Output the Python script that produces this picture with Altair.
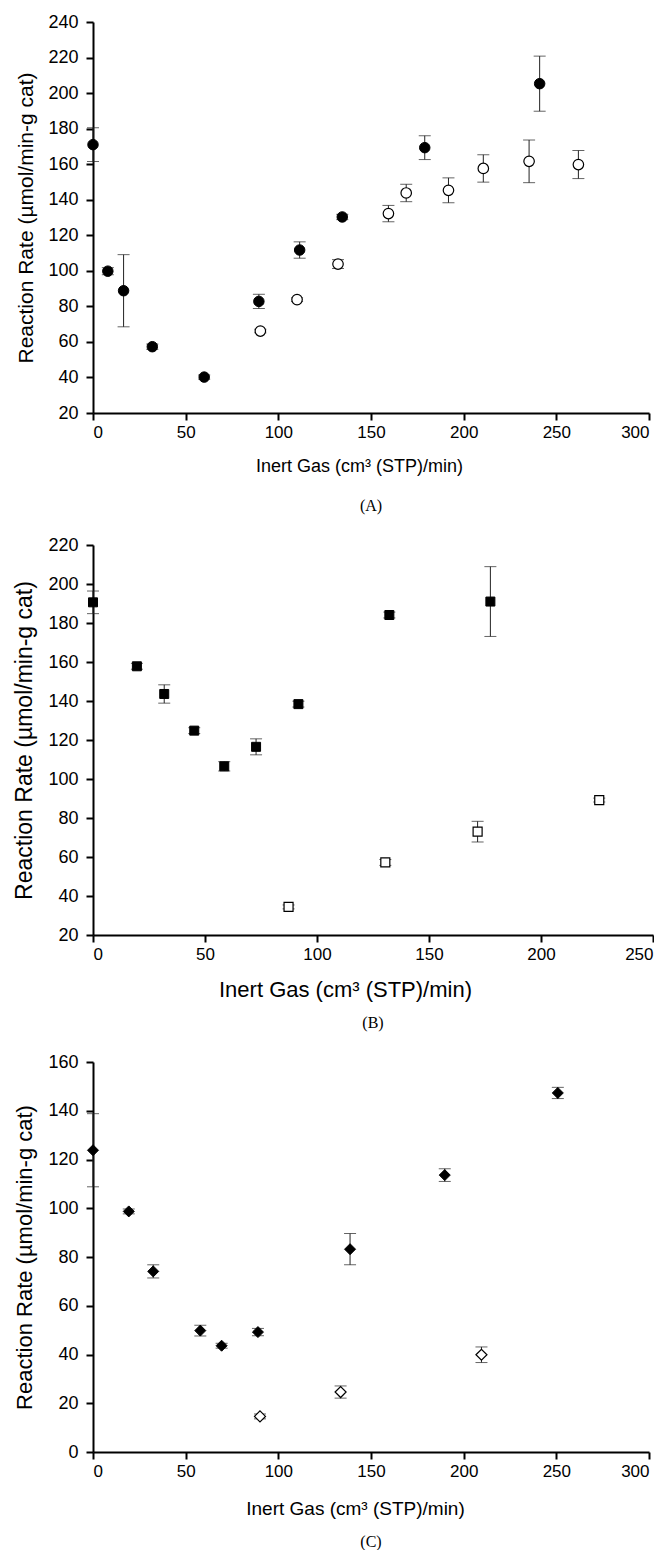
import altair as alt
import pandas as pd

# ---------------- Panel A (circles) ----------------
a_fill_x = [0, 8, 16.5, 32, 60, 89.5, 111.5, 134.5, 179, 241]
a_fill_y = [171, 99.8, 88.8, 57.3, 40.2, 82.8, 111.7, 130.3, 169.3, 205.3]
a_fill_err = [9.5, 2, 20.3, 1.5, 1.2, 4, 4.6, 1.5, 6.7, 15.5]
a_open_x = [90.3, 110.1, 132.2, 159.4, 169, 191.8, 210.6, 235.3, 261.9]
a_open_y = [66.1, 83.8, 103.8, 132.2, 143.8, 145.3, 157.6, 161.6, 159.8]
a_open_err = [1, 1, 2.5, 4.6, 4.9, 7, 7.7, 12, 7.9]

# ---------------- Panel B (squares) ----------------
b_fill_x = [0, 19.6, 31.8, 45.2, 58.6, 72.8, 91.7, 132.3, 177.4]
b_fill_y = [190.6, 157.8, 143.6, 124.8, 106.5, 116.5, 138.4, 184.1, 191]
b_fill_err = [5.8, 1.5, 4.7, 1.5, 2.4, 4.1, 1.5, 1.5, 17.9]
b_open_x = [87.3, 130.5, 171.7, 226]
b_open_y = [34.4, 57.2, 73, 89.2]
b_open_err = [1, 1.5, 5.3, 1]

# ---------------- Panel C (diamonds) ----------------
c_fill_x = [0, 19.3, 32.5, 57.9, 69.4, 89, 138.7, 189.8, 250.8]
c_fill_y = [123.8, 98.7, 74.1, 49.8, 43.6, 49.2, 83.2, 113.6, 147.3]
c_fill_err = [15, 1, 2.7, 2.2, 1, 1.5, 6.4, 2.6, 2.3]
c_open_x = [90.1, 133.6, 209.6]
c_open_y = [14.6, 24.6, 39.9]
c_open_err = [1, 2.5, 3.2]

X_TITLE = "Inert Gas (cm³ (STP)/min)"
Y_TITLE = "Reaction Rate (µmol/min-g cat)"


def make_df(xs, ys, es):
    return pd.DataFrame({
        "x": xs, "y": ys,
        "lo": [y - e for y, e in zip(ys, es)],
        "hi": [y + e for y, e in zip(ys, es)],
    })


def panel(fx, fy, fe, ox, oy, oe, shape, msize, xmax, ymin, ymax,
          width, height, caption, xtfont, ytfont, xtitle_x, xtitle_pad,
          cap_offset):
    xs = alt.Scale(domain=[0, xmax], nice=False, zero=False)
    ys = alt.Scale(domain=[ymin, ymax], nice=False, zero=False)
    xaxis = alt.Axis(values=list(range(0, xmax + 1, 50)), title=X_TITLE,
                     titleFontSize=xtfont, labelPadding=4,
                     titlePadding=xtitle_pad, titleX=xtitle_x)
    yaxis = alt.Axis(values=list(range(ymin, ymax + 1, 20)), title=Y_TITLE,
                     titleFontSize=ytfont, labelPadding=8, titlePadding=11)
    layers = []
    for xs_, ys_, es_, filled in [(fx, fy, fe, True), (ox, oy, oe, False)]:
        df = make_df(xs_, ys_, es_)
        base = alt.Chart(df)
        stem = base.mark_rule(color="#222222", strokeWidth=1).encode(
            x=alt.X("x:Q", scale=xs, axis=xaxis),
            y=alt.Y("lo:Q", scale=ys, axis=yaxis),
            y2="hi:Q",
        )
        cap_lo = base.mark_tick(color="#222222", orient="horizontal", size=12,
                                thickness=1).encode(
            x=alt.X("x:Q", scale=xs, axis=xaxis),
            y=alt.Y("lo:Q", scale=ys, axis=yaxis),
        )
        cap_hi = base.mark_tick(color="#222222", orient="horizontal", size=12,
                                thickness=1).encode(
            x=alt.X("x:Q", scale=xs, axis=xaxis),
            y=alt.Y("hi:Q", scale=ys, axis=yaxis),
        )
        if filled:
            pts = base.mark_point(shape=shape, size=msize, filled=True,
                                  fill="black", stroke="black", strokeWidth=1,
                                  opacity=1)
        else:
            pts = base.mark_point(shape=shape, size=msize, filled=True,
                                  fill="white", stroke="black", strokeWidth=1.2,
                                  opacity=1)
        pts = pts.encode(
            x=alt.X("x:Q", scale=xs, axis=xaxis),
            y=alt.Y("y:Q", scale=ys, axis=yaxis),
        )
        layers += [stem, cap_lo, cap_hi, pts]
    return alt.layer(*layers).properties(
        width=width, height=height,
        title=alt.TitleParams(caption, orient="bottom", font="Liberation Serif",
                              fontSize=16, fontWeight="normal",
                              offset=cap_offset, anchor="middle",
                              color="black"),
    )


pA = panel(a_fill_x, a_fill_y, a_fill_err, a_open_x, a_open_y, a_open_err,
           "circle", 110, 300, 20, 240, 556, 391, "(A)", 18, 21, 266, 17, 23)
pB = panel(b_fill_x, b_fill_y, b_fill_err, b_open_x, b_open_y, b_open_err,
           "square", 81, 250, 20, 220, 560, 390, "(B)", 22, 23, 252, 17, 15)
pC = panel(c_fill_x, c_fill_y, c_fill_err, c_open_x, c_open_y, c_open_err,
           "diamond", 121, 300, 0, 160, 556, 390, "(C)", 19, 22, 262, 20, 16)

chart = alt.vconcat(pA, pB, pC, spacing=22).configure_view(
    stroke=None
).configure_axis(
    grid=False, domainColor="black", domainWidth=2, tickColor="black",
    tickWidth=2, tickSize=7, labelColor="black", titleColor="black",
    labelFont="Liberation Sans", titleFont="Liberation Sans",
    labelFontSize=18, titleFontWeight="normal",
).configure_axisX(labelFontSize=17).properties(
    padding={"left": 5, "top": 5, "right": 0, "bottom": 0}
)

chart.save("out.html", embed_options={"renderer": "svg", "actions": False})
